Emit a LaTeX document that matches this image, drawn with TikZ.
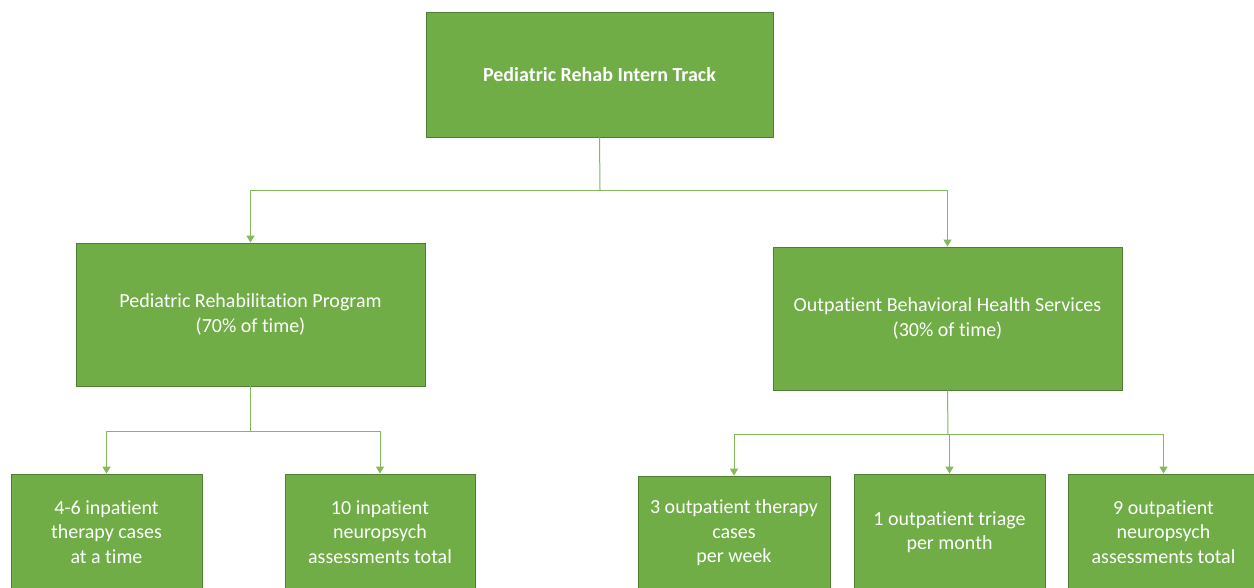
\documentclass[tikz,border=0pt]{standalone}
\usepackage{fontspec}
\setmainfont{Carlito}[Ligatures=CommonOff]
\usetikzlibrary{arrows.meta}
\definecolor{boxgreen}{RGB}{112,173,71}
\definecolor{boxedge}{RGB}{80,126,50}
\definecolor{linegreen}{RGB}{130,186,92}
\tikzset{
  box/.style={draw=boxedge, line width=0.8pt, fill=boxgreen, text=white, align=center,
    inner sep=0pt, font=\fontsize{20}{24.5}\selectfont},
  conn/.style={draw=linegreen, line width=1pt, -{Triangle[width=8pt,length=7pt]}},
  connl/.style={draw=linegreen, line width=1pt},
}
\begin{document}
\begin{tikzpicture}[x=1pt,y=-1pt]
\clip (0,0) rectangle (1254,587);
\fill[white] (0,0) rectangle (1254,587);
\node[box, minimum width=347pt, minimum height=125pt, font=\fontsize{20}{24.5}\selectfont\bfseries] (top) at (599.5,74.5) {Pediatric Rehab Intern Track};
\node[box, minimum width=349pt, minimum height=143pt] (lm) at (250.5,314.5) {Pediatric Rehabilitation Program\\(70\% of time)};
\node[box, minimum width=349pt, minimum height=143pt] (rm) at (947.5,318.5) {Outpatient Behavioral Health Services\\(30\% of time)};
\node[box, minimum width=191pt, minimum height=116pt] (b1) at (106.5,532) {4-6 inpatient\\therapy cases\\at a time};
\node[box, minimum width=190pt, minimum height=116pt] (b2) at (380,532) {10 inpatient\\neuropsych\\assessments total};
\node[box, minimum width=192pt, minimum height=114pt] (b3) at (734,533) {3 outpatient therapy\\cases\\per week};
\node[box, minimum width=191pt, minimum height=116pt] (b4) at (949.5,532) {1 outpatient triage\\per month};
\node[box, minimum width=191pt, minimum height=116pt] (b5) at (1163.5,532) {9 outpatient\\neuropsych\\assessments total};
\coordinate (j1) at (600,190);
\coordinate (j2) at (250.5,431);
\coordinate (j3) at (948,434);
\draw[connl] (top.south) -- (j1);
\draw[conn] (j1) -| (lm.north);
\draw[conn] (j1) -| (rm.north);
\draw[connl] (lm.south) -- (j2);
\draw[conn] (j2) -| (b1.north);
\draw[conn] (j2) -| (b2.north);
\draw[connl] (rm.south) -- (j3);
\draw[conn] (j3) -| (b3.north);
\draw[conn] (j3) -| (b4.north);
\draw[conn] (j3) -| (b5.north);
\end{tikzpicture}
\end{document}
